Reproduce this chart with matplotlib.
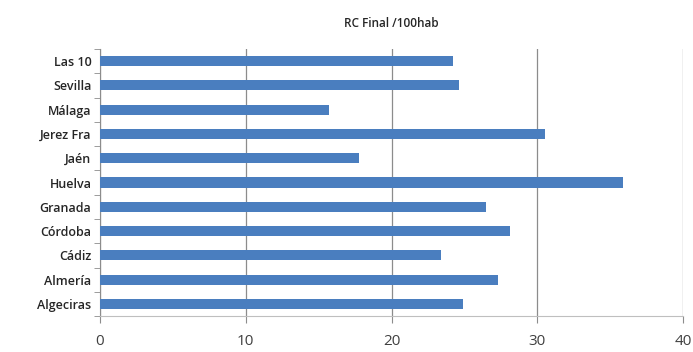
import matplotlib.pyplot as plt
import numpy as np

# data, bottom to top as in the chart
cities = ["Algeciras", "Almería", "Cádiz", "Córdoba", "Granada", "Huelva",
          "Jaén", "Jerez Fra", "Málaga", "Sevilla", "Las 10"]
rc_final = [24.9, 27.3, 23.4, 28.1, 26.5, 35.9, 17.8, 30.5, 15.7, 24.6, 24.2]
xticks = [0, 10, 20, 30, 40]

bar_color = "#4a7ebf"
grid_grey = "#8c8c8c"
text_dark = "#262626"

plt.rcParams['font.family'] = ['Open Sans', 'DejaVu Sans']

fig = plt.figure(figsize=(6.93, 3.52), dpi=100)
ax = fig.add_axes([0.144, 0.102, 0.842, 0.759])

pos = np.arange(len(cities))
ax.barh(pos, rc_final, height=0.42, color=bar_color, zorder=3)

ax.set_xlim(0, 40)
ax.set_ylim(-0.5, len(cities) - 0.5)
ax.set_xticks(xticks, labels=[str(t) for t in xticks])
ax.set_yticks(pos, labels=cities)

''' tick marks between categories, like the spreadsheet look '''
ax.set_yticks(np.arange(-0.5, len(cities), 1), minor=True)
ax.tick_params(axis="y", which="major", length=0, pad=6,
               labelsize=9, labelcolor=text_dark)
ax.tick_params(axis="y", which="minor", length=4, color=grid_grey)
ax.tick_params(axis="x", length=5, color=grid_grey, pad=8,
               labelsize=11, labelcolor="#404040")
for lab in ax.get_yticklabels():
    lab.set_fontweight("semibold")

ax.grid(True, axis="x", color=grid_grey, lw=0.9, zorder=0)
ax.spines[["top", "right"]].set_visible(False)
ax.spines["left"].set_color(grid_grey)
ax.spines["bottom"].set_color("#bfbfbf")

ax.set_title("RC Final /100hab", fontsize=8.5, fontweight="semibold",
             color=text_dark, pad=16)

plt.savefig("out.png", dpi=100)
